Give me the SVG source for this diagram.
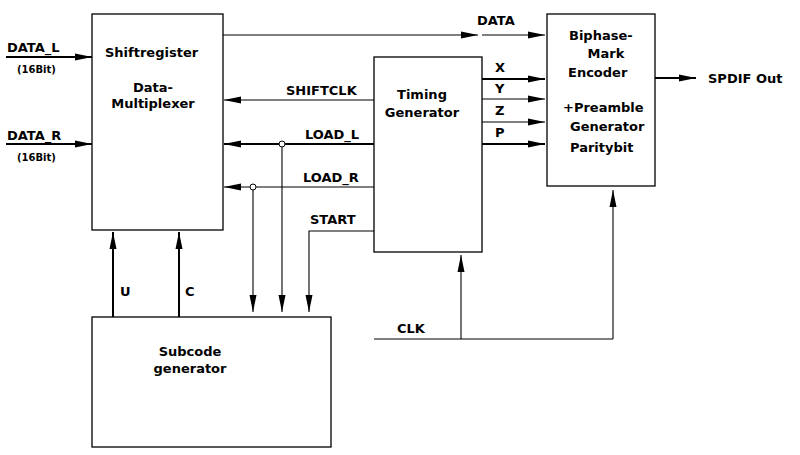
<svg xmlns="http://www.w3.org/2000/svg" width="800" height="455" viewBox="0 0 800 455">
<style>
text{font-family:"DejaVu Sans","Liberation Sans",sans-serif;font-weight:bold;font-size:13px;fill:#000}
.sm{font-size:10px}
.box{fill:#fff;stroke:#000;stroke-width:1.3}
.w{fill:none;stroke:#000;stroke-width:1.1}
.b{fill:none;stroke:#000;stroke-width:2}
.a{marker-end:url(#ah)}
.dot{fill:#fff;stroke:#000;stroke-width:1}
</style>
<defs>
<marker id="ah" markerUnits="userSpaceOnUse" markerWidth="18" markerHeight="8" refX="17" refY="4" orient="auto">
<path d="M0,0.5 L17,4 L0,7.5 z" fill="#000"/>
</marker>
</defs>
<rect width="800" height="455" fill="#fff"/>
<g id="shiftregister">
<rect class="box" x="92" y="14" width="131" height="216"/>
<text x="105" y="56.5">Shiftregister</text>
<text x="153" y="92" text-anchor="middle">Data-</text>
<text x="153" y="108" text-anchor="middle">Multiplexer</text>
</g>
<g id="timing">
<rect class="box" x="374" y="57" width="108" height="195"/>
<text x="422" y="99" text-anchor="middle">Timing</text>
<text x="422" y="116.5" text-anchor="middle">Generator</text>
</g>
<g id="biphase">
<rect class="box" x="547" y="14" width="108" height="172"/>
<text x="569" y="40">Biphase-</text>
<text x="606" y="58" text-anchor="middle">Mark</text>
<text x="568" y="77">Encoder</text>
<text x="563" y="112">+Preamble</text>
<text x="570" y="131">Generator</text>
<text x="570" y="152">Paritybit</text>
</g>
<g id="subcode">
<rect class="box" x="92" y="317" width="239" height="130"/>
<text x="190" y="356" text-anchor="middle">Subcode</text>
<text x="190" y="373" text-anchor="middle">generator</text>
</g>
<g id="connectors">
<path class="b a" d="M6,57 H92"/>
<path class="b a" d="M6,144 H92"/>
<path class="w a" d="M223,35 H478"/>
<path class="w a" d="M482,35 H545"/>
<path class="w a" d="M374,100 H224"/>
<path class="b a" d="M374,144 H224"/>
<path class="w a" d="M374,187 H224"/>
<path class="w a" d="M253,187 V312"/>
<path class="w a" d="M282,144 V312"/>
<path class="w a" d="M374,231 H309 V312"/>
<circle class="dot" cx="282" cy="144" r="3"/>
<circle class="dot" cx="253" cy="187" r="3"/>
<path class="b a" d="M482,79 H545"/>
<path class="w a" d="M482,99 H545"/>
<path class="w a" d="M482,122 H545"/>
<path class="b a" d="M482,144 H545"/>
<path class="b a" d="M655,78 H696"/>
<path class="b a" d="M113,317 V232"/>
<path class="b a" d="M179,317 V232"/>
<path class="w" d="M374,339 H613"/>
<path class="w a" d="M461,339 V255"/>
<path class="w a" d="M613,339 V190"/>
</g>
<g id="labels">
<text x="7" y="51.5">DATA_L</text>
<text class="sm" x="17" y="73">(16Bit)</text>
<text x="7" y="140">DATA_R</text>
<text class="sm" x="17" y="161">(16Bit)</text>
<text x="477" y="25">DATA</text>
<text x="286" y="95">SHIFTCLK</text>
<text x="305" y="139">LOAD_L</text>
<text x="303" y="181.5">LOAD_R</text>
<text x="310" y="224">START</text>
<text x="495" y="72">X</text>
<text x="495" y="93">Y</text>
<text x="495" y="115">Z</text>
<text x="495" y="137">P</text>
<text x="708" y="83">SPDIF Out</text>
<text x="120" y="296">U</text>
<text x="185" y="296">C</text>
<text x="397" y="333">CLK</text>
</g>
</svg>
